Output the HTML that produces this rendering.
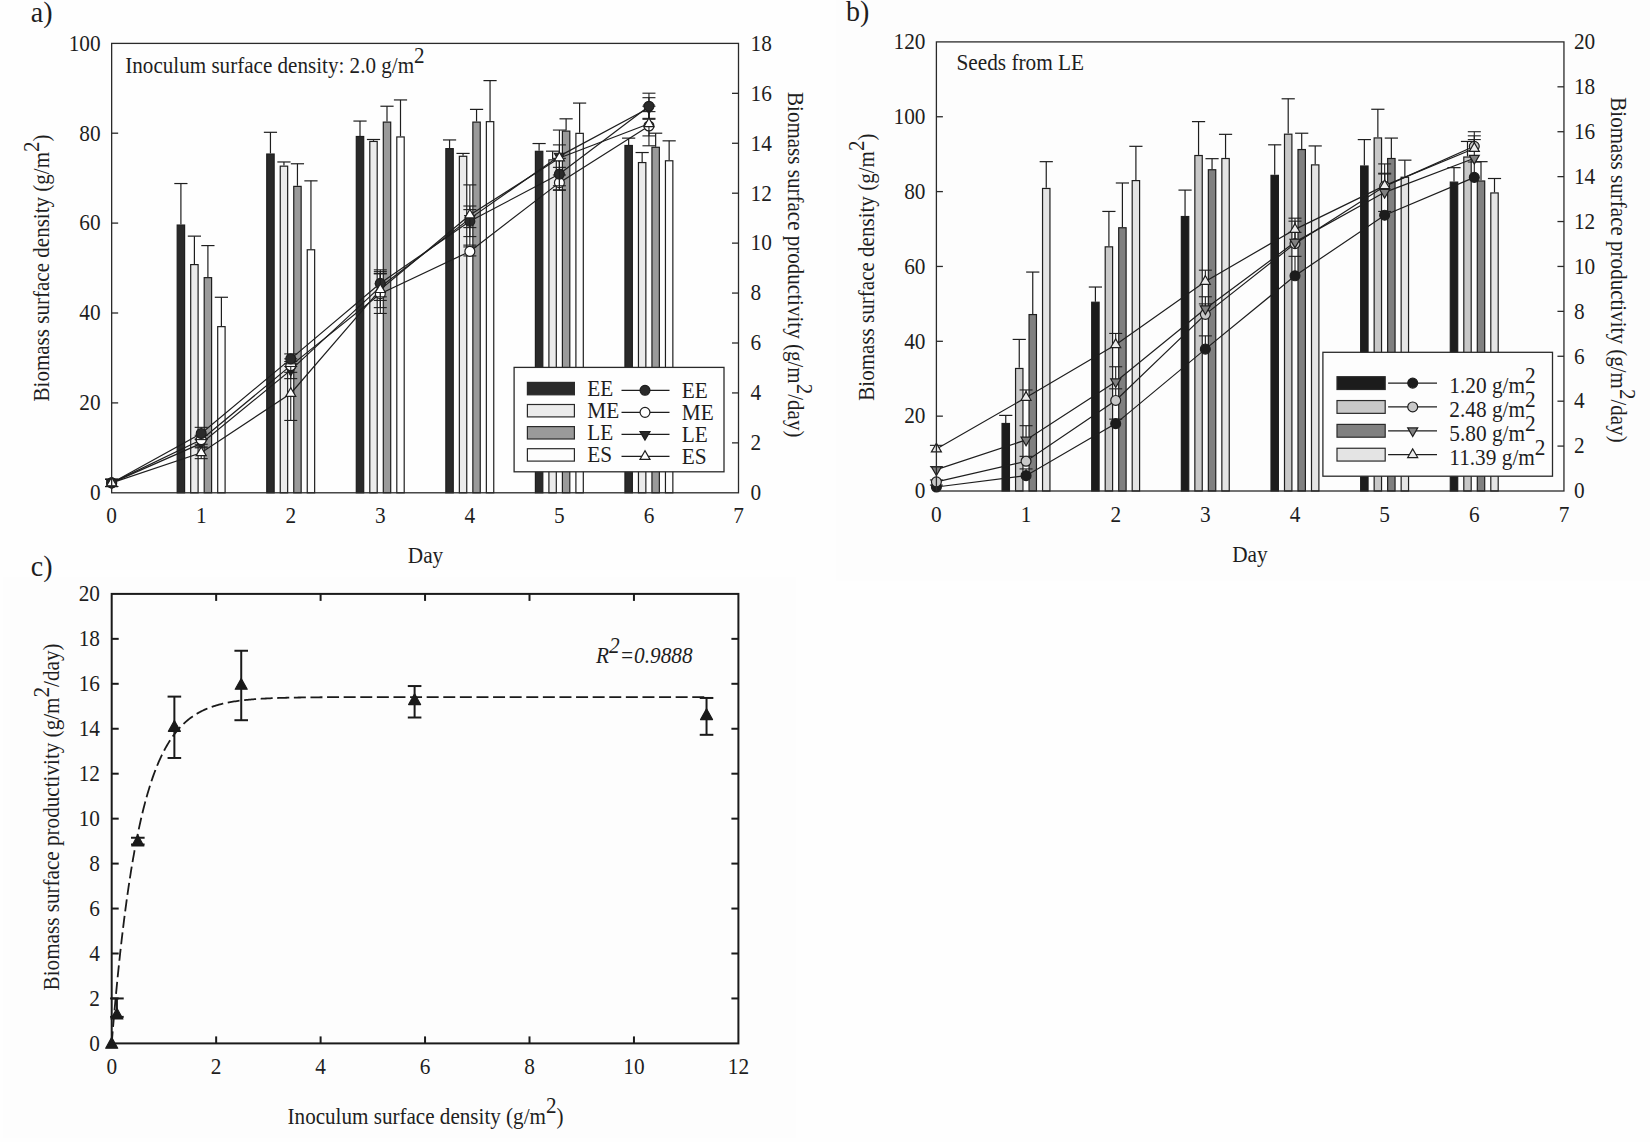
<!DOCTYPE html>
<html><head><meta charset="utf-8"><title>Figure</title>
<style>html,body{margin:0;padding:0;background:#fefefe;}svg{display:block}</style></head>
<body>
<svg width="1650" height="1142" viewBox="0 0 1650 1142" font-family="&quot;Liberation Serif&quot;, serif" fill="#1e1e1e">
<rect width="1650" height="1142" fill="#fefefe"/>
<g id="panelA">
<line x1="180.9" y1="224.45" x2="180.9" y2="183.54" stroke="#1e1e1e" stroke-width="1.2" />
<line x1="174.3" y1="183.54" x2="187.5" y2="183.54" stroke="#1e1e1e" stroke-width="1.2" />
<rect x="177.2" y="225.05" width="7.4" height="267.75" fill="#2a2a2a" stroke="#1e1e1e" stroke-width="1.2"/>
<line x1="194.4" y1="264" x2="194.4" y2="236.14" stroke="#1e1e1e" stroke-width="1.2" />
<line x1="187.8" y1="236.14" x2="201" y2="236.14" stroke="#1e1e1e" stroke-width="1.2" />
<rect x="190.7" y="264.6" width="7.4" height="228.2" fill="#ebebeb" stroke="#1e1e1e" stroke-width="1.2"/>
<line x1="207.9" y1="277.04" x2="207.9" y2="245.58" stroke="#1e1e1e" stroke-width="1.2" />
<line x1="201.3" y1="245.58" x2="214.5" y2="245.58" stroke="#1e1e1e" stroke-width="1.2" />
<rect x="204.2" y="277.64" width="7.4" height="215.16" fill="#9a9a9a" stroke="#1e1e1e" stroke-width="1.2"/>
<line x1="221.4" y1="326.04" x2="221.4" y2="297.27" stroke="#1e1e1e" stroke-width="1.2" />
<line x1="214.8" y1="297.27" x2="228" y2="297.27" stroke="#1e1e1e" stroke-width="1.2" />
<rect x="217.7" y="326.64" width="7.4" height="166.16" fill="#fdfdfd" stroke="#1e1e1e" stroke-width="1.2"/>
<line x1="270.45" y1="153.43" x2="270.45" y2="132.3" stroke="#1e1e1e" stroke-width="1.2" />
<line x1="263.85" y1="132.3" x2="277.05" y2="132.3" stroke="#1e1e1e" stroke-width="1.2" />
<rect x="266.75" y="154.03" width="7.4" height="338.77" fill="#2a2a2a" stroke="#1e1e1e" stroke-width="1.2"/>
<line x1="283.95" y1="165.56" x2="283.95" y2="161.97" stroke="#1e1e1e" stroke-width="1.2" />
<line x1="277.35" y1="161.97" x2="290.55" y2="161.97" stroke="#1e1e1e" stroke-width="1.2" />
<rect x="280.25" y="166.16" width="7.4" height="326.64" fill="#ebebeb" stroke="#1e1e1e" stroke-width="1.2"/>
<line x1="297.45" y1="185.79" x2="297.45" y2="163.77" stroke="#1e1e1e" stroke-width="1.2" />
<line x1="290.85" y1="163.77" x2="304.05" y2="163.77" stroke="#1e1e1e" stroke-width="1.2" />
<rect x="293.75" y="186.39" width="7.4" height="306.41" fill="#9a9a9a" stroke="#1e1e1e" stroke-width="1.2"/>
<line x1="310.95" y1="249.17" x2="310.95" y2="180.85" stroke="#1e1e1e" stroke-width="1.2" />
<line x1="304.35" y1="180.85" x2="317.55" y2="180.85" stroke="#1e1e1e" stroke-width="1.2" />
<rect x="307.25" y="249.77" width="7.4" height="243.03" fill="#fdfdfd" stroke="#1e1e1e" stroke-width="1.2"/>
<line x1="360" y1="135.9" x2="360" y2="121.06" stroke="#1e1e1e" stroke-width="1.2" />
<line x1="353.4" y1="121.06" x2="366.6" y2="121.06" stroke="#1e1e1e" stroke-width="1.2" />
<rect x="356.3" y="136.5" width="7.4" height="356.3" fill="#2a2a2a" stroke="#1e1e1e" stroke-width="1.2"/>
<line x1="373.5" y1="140.84" x2="373.5" y2="139.49" stroke="#1e1e1e" stroke-width="1.2" />
<line x1="366.9" y1="139.49" x2="380.1" y2="139.49" stroke="#1e1e1e" stroke-width="1.2" />
<rect x="369.8" y="141.44" width="7.4" height="351.36" fill="#ebebeb" stroke="#1e1e1e" stroke-width="1.2"/>
<line x1="387" y1="121.51" x2="387" y2="106.23" stroke="#1e1e1e" stroke-width="1.2" />
<line x1="380.4" y1="106.23" x2="393.6" y2="106.23" stroke="#1e1e1e" stroke-width="1.2" />
<rect x="383.3" y="122.11" width="7.4" height="370.69" fill="#9a9a9a" stroke="#1e1e1e" stroke-width="1.2"/>
<line x1="400.5" y1="136.35" x2="400.5" y2="99.94" stroke="#1e1e1e" stroke-width="1.2" />
<line x1="393.9" y1="99.94" x2="407.1" y2="99.94" stroke="#1e1e1e" stroke-width="1.2" />
<rect x="396.8" y="136.95" width="7.4" height="355.85" fill="#fdfdfd" stroke="#1e1e1e" stroke-width="1.2"/>
<line x1="449.55" y1="148.03" x2="449.55" y2="139.94" stroke="#1e1e1e" stroke-width="1.2" />
<line x1="442.95" y1="139.94" x2="456.15" y2="139.94" stroke="#1e1e1e" stroke-width="1.2" />
<rect x="445.85" y="148.63" width="7.4" height="344.17" fill="#2a2a2a" stroke="#1e1e1e" stroke-width="1.2"/>
<line x1="463.05" y1="155.68" x2="463.05" y2="153.43" stroke="#1e1e1e" stroke-width="1.2" />
<line x1="456.45" y1="153.43" x2="469.65" y2="153.43" stroke="#1e1e1e" stroke-width="1.2" />
<rect x="459.35" y="156.28" width="7.4" height="336.52" fill="#ebebeb" stroke="#1e1e1e" stroke-width="1.2"/>
<line x1="476.55" y1="121.51" x2="476.55" y2="109.38" stroke="#1e1e1e" stroke-width="1.2" />
<line x1="469.95" y1="109.38" x2="483.15" y2="109.38" stroke="#1e1e1e" stroke-width="1.2" />
<rect x="472.85" y="122.11" width="7.4" height="370.69" fill="#9a9a9a" stroke="#1e1e1e" stroke-width="1.2"/>
<line x1="490.05" y1="121.06" x2="490.05" y2="80.61" stroke="#1e1e1e" stroke-width="1.2" />
<line x1="483.45" y1="80.61" x2="496.65" y2="80.61" stroke="#1e1e1e" stroke-width="1.2" />
<rect x="486.35" y="121.66" width="7.4" height="371.14" fill="#fdfdfd" stroke="#1e1e1e" stroke-width="1.2"/>
<line x1="539.1" y1="150.73" x2="539.1" y2="143.54" stroke="#1e1e1e" stroke-width="1.2" />
<line x1="532.5" y1="143.54" x2="545.7" y2="143.54" stroke="#1e1e1e" stroke-width="1.2" />
<rect x="535.4" y="151.33" width="7.4" height="341.47" fill="#2a2a2a" stroke="#1e1e1e" stroke-width="1.2"/>
<line x1="552.6" y1="159.27" x2="552.6" y2="151.18" stroke="#1e1e1e" stroke-width="1.2" />
<line x1="546" y1="151.18" x2="559.2" y2="151.18" stroke="#1e1e1e" stroke-width="1.2" />
<rect x="548.9" y="159.87" width="7.4" height="332.93" fill="#ebebeb" stroke="#1e1e1e" stroke-width="1.2"/>
<line x1="566.1" y1="130.5" x2="566.1" y2="118.82" stroke="#1e1e1e" stroke-width="1.2" />
<line x1="559.5" y1="118.82" x2="572.7" y2="118.82" stroke="#1e1e1e" stroke-width="1.2" />
<rect x="562.4" y="131.1" width="7.4" height="361.7" fill="#9a9a9a" stroke="#1e1e1e" stroke-width="1.2"/>
<line x1="579.6" y1="132.75" x2="579.6" y2="103.08" stroke="#1e1e1e" stroke-width="1.2" />
<line x1="573" y1="103.08" x2="586.2" y2="103.08" stroke="#1e1e1e" stroke-width="1.2" />
<rect x="575.9" y="133.35" width="7.4" height="359.45" fill="#fdfdfd" stroke="#1e1e1e" stroke-width="1.2"/>
<line x1="628.65" y1="144.89" x2="628.65" y2="138.14" stroke="#1e1e1e" stroke-width="1.2" />
<line x1="622.05" y1="138.14" x2="635.25" y2="138.14" stroke="#1e1e1e" stroke-width="1.2" />
<rect x="624.95" y="145.49" width="7.4" height="347.31" fill="#2a2a2a" stroke="#1e1e1e" stroke-width="1.2"/>
<line x1="642.15" y1="161.97" x2="642.15" y2="152.53" stroke="#1e1e1e" stroke-width="1.2" />
<line x1="635.55" y1="152.53" x2="648.75" y2="152.53" stroke="#1e1e1e" stroke-width="1.2" />
<rect x="638.45" y="162.57" width="7.4" height="330.23" fill="#ebebeb" stroke="#1e1e1e" stroke-width="1.2"/>
<line x1="655.65" y1="146.69" x2="655.65" y2="133.2" stroke="#1e1e1e" stroke-width="1.2" />
<line x1="649.05" y1="133.2" x2="662.25" y2="133.2" stroke="#1e1e1e" stroke-width="1.2" />
<rect x="651.95" y="147.28" width="7.4" height="345.51" fill="#9a9a9a" stroke="#1e1e1e" stroke-width="1.2"/>
<line x1="669.15" y1="160.17" x2="669.15" y2="140.84" stroke="#1e1e1e" stroke-width="1.2" />
<line x1="662.55" y1="140.84" x2="675.75" y2="140.84" stroke="#1e1e1e" stroke-width="1.2" />
<rect x="665.45" y="160.77" width="7.4" height="332.03" fill="#fdfdfd" stroke="#1e1e1e" stroke-width="1.2"/>
<polyline points="111.65,482.91 201.2,433.47 290.75,358.85 380.3,283.33 469.85,221.3 559.4,174.1 648.95,106.23" fill="none" stroke="#1e1e1e" stroke-width="1.2"/>
<polyline points="111.65,482.91 201.2,439.76 290.75,365.59 380.3,293.67 469.85,251.42 559.4,182.64 648.95,126.01" fill="none" stroke="#1e1e1e" stroke-width="1.2"/>
<polyline points="111.65,482.91 201.2,443.36 290.75,370.09 380.3,286.93 469.85,218.61 559.4,156.12 648.95,108.03" fill="none" stroke="#1e1e1e" stroke-width="1.2"/>
<polyline points="111.65,482.91 201.2,452.79 290.75,393.46 380.3,289.63 469.85,215.01 559.4,157.92 648.95,123.76" fill="none" stroke="#1e1e1e" stroke-width="1.2"/>
<line x1="111.65" y1="486.51" x2="111.65" y2="479.31" stroke="#1e1e1e" stroke-width="1.1" />
<line x1="105.15" y1="479.31" x2="118.15" y2="479.31" stroke="#1e1e1e" stroke-width="1.1" />
<line x1="105.15" y1="486.51" x2="118.15" y2="486.51" stroke="#1e1e1e" stroke-width="1.1" />
<line x1="201.2" y1="447.85" x2="201.2" y2="438.86" stroke="#1e1e1e" stroke-width="1.1" />
<line x1="194.7" y1="438.86" x2="207.7" y2="438.86" stroke="#1e1e1e" stroke-width="1.1" />
<line x1="194.7" y1="447.85" x2="207.7" y2="447.85" stroke="#1e1e1e" stroke-width="1.1" />
<line x1="290.75" y1="378.63" x2="290.75" y2="361.55" stroke="#1e1e1e" stroke-width="1.1" />
<line x1="284.25" y1="361.55" x2="297.25" y2="361.55" stroke="#1e1e1e" stroke-width="1.1" />
<line x1="284.25" y1="378.63" x2="297.25" y2="378.63" stroke="#1e1e1e" stroke-width="1.1" />
<line x1="380.3" y1="300.41" x2="380.3" y2="273.44" stroke="#1e1e1e" stroke-width="1.1" />
<line x1="373.8" y1="273.44" x2="386.8" y2="273.44" stroke="#1e1e1e" stroke-width="1.1" />
<line x1="373.8" y1="300.41" x2="386.8" y2="300.41" stroke="#1e1e1e" stroke-width="1.1" />
<line x1="469.85" y1="227.6" x2="469.85" y2="209.62" stroke="#1e1e1e" stroke-width="1.1" />
<line x1="463.35" y1="209.62" x2="476.35" y2="209.62" stroke="#1e1e1e" stroke-width="1.1" />
<line x1="463.35" y1="227.6" x2="476.35" y2="227.6" stroke="#1e1e1e" stroke-width="1.1" />
<line x1="559.4" y1="167.36" x2="559.4" y2="144.89" stroke="#1e1e1e" stroke-width="1.1" />
<line x1="552.9" y1="144.89" x2="565.9" y2="144.89" stroke="#1e1e1e" stroke-width="1.1" />
<line x1="552.9" y1="167.36" x2="565.9" y2="167.36" stroke="#1e1e1e" stroke-width="1.1" />
<line x1="648.95" y1="118.37" x2="648.95" y2="97.69" stroke="#1e1e1e" stroke-width="1.1" />
<line x1="642.45" y1="97.69" x2="655.45" y2="97.69" stroke="#1e1e1e" stroke-width="1.1" />
<line x1="642.45" y1="118.37" x2="655.45" y2="118.37" stroke="#1e1e1e" stroke-width="1.1" />
<polygon points="111.65,488.68 106.65,480.02 116.65,480.02" fill="#2a2a2a" stroke="#1e1e1e" stroke-width="1.2" stroke-linejoin="miter"/>
<polygon points="201.2,449.13 196.2,440.47 206.2,440.47" fill="#2a2a2a" stroke="#1e1e1e" stroke-width="1.2" stroke-linejoin="miter"/>
<polygon points="290.75,375.86 285.75,367.2 295.75,367.2" fill="#2a2a2a" stroke="#1e1e1e" stroke-width="1.2" stroke-linejoin="miter"/>
<polygon points="380.3,292.7 375.3,284.04 385.3,284.04" fill="#2a2a2a" stroke="#1e1e1e" stroke-width="1.2" stroke-linejoin="miter"/>
<polygon points="469.85,224.38 464.85,215.72 474.85,215.72" fill="#2a2a2a" stroke="#1e1e1e" stroke-width="1.2" stroke-linejoin="miter"/>
<polygon points="559.4,161.9 554.4,153.24 564.4,153.24" fill="#2a2a2a" stroke="#1e1e1e" stroke-width="1.2" stroke-linejoin="miter"/>
<polygon points="648.95,113.8 643.95,105.14 653.95,105.14" fill="#2a2a2a" stroke="#1e1e1e" stroke-width="1.2" stroke-linejoin="miter"/>
<line x1="111.65" y1="486.51" x2="111.65" y2="479.31" stroke="#1e1e1e" stroke-width="1.1" />
<line x1="105.15" y1="479.31" x2="118.15" y2="479.31" stroke="#1e1e1e" stroke-width="1.1" />
<line x1="105.15" y1="486.51" x2="118.15" y2="486.51" stroke="#1e1e1e" stroke-width="1.1" />
<line x1="201.2" y1="444.25" x2="201.2" y2="435.26" stroke="#1e1e1e" stroke-width="1.1" />
<line x1="194.7" y1="435.26" x2="207.7" y2="435.26" stroke="#1e1e1e" stroke-width="1.1" />
<line x1="194.7" y1="444.25" x2="207.7" y2="444.25" stroke="#1e1e1e" stroke-width="1.1" />
<line x1="290.75" y1="372.33" x2="290.75" y2="358.85" stroke="#1e1e1e" stroke-width="1.1" />
<line x1="284.25" y1="358.85" x2="297.25" y2="358.85" stroke="#1e1e1e" stroke-width="1.1" />
<line x1="284.25" y1="372.33" x2="297.25" y2="372.33" stroke="#1e1e1e" stroke-width="1.1" />
<line x1="380.3" y1="313.45" x2="380.3" y2="273.89" stroke="#1e1e1e" stroke-width="1.1" />
<line x1="373.8" y1="273.89" x2="386.8" y2="273.89" stroke="#1e1e1e" stroke-width="1.1" />
<line x1="373.8" y1="313.45" x2="386.8" y2="313.45" stroke="#1e1e1e" stroke-width="1.1" />
<line x1="469.85" y1="255.91" x2="469.85" y2="246.92" stroke="#1e1e1e" stroke-width="1.1" />
<line x1="463.35" y1="246.92" x2="476.35" y2="246.92" stroke="#1e1e1e" stroke-width="1.1" />
<line x1="463.35" y1="255.91" x2="476.35" y2="255.91" stroke="#1e1e1e" stroke-width="1.1" />
<line x1="559.4" y1="190.29" x2="559.4" y2="175" stroke="#1e1e1e" stroke-width="1.1" />
<line x1="552.9" y1="175" x2="565.9" y2="175" stroke="#1e1e1e" stroke-width="1.1" />
<line x1="552.9" y1="190.29" x2="565.9" y2="190.29" stroke="#1e1e1e" stroke-width="1.1" />
<line x1="648.95" y1="145.79" x2="648.95" y2="106.23" stroke="#1e1e1e" stroke-width="1.1" />
<line x1="642.45" y1="106.23" x2="655.45" y2="106.23" stroke="#1e1e1e" stroke-width="1.1" />
<line x1="642.45" y1="145.79" x2="655.45" y2="145.79" stroke="#1e1e1e" stroke-width="1.1" />
<circle cx="111.65" cy="482.91" r="4.95" fill="#ffffff" stroke="#1e1e1e" stroke-width="1.2"/>
<circle cx="201.2" cy="439.76" r="4.95" fill="#ffffff" stroke="#1e1e1e" stroke-width="1.2"/>
<circle cx="290.75" cy="365.59" r="4.95" fill="#ffffff" stroke="#1e1e1e" stroke-width="1.2"/>
<circle cx="380.3" cy="293.67" r="4.95" fill="#ffffff" stroke="#1e1e1e" stroke-width="1.2"/>
<circle cx="469.85" cy="251.42" r="4.95" fill="#ffffff" stroke="#1e1e1e" stroke-width="1.2"/>
<circle cx="559.4" cy="182.64" r="4.95" fill="#ffffff" stroke="#1e1e1e" stroke-width="1.2"/>
<circle cx="648.95" cy="126.01" r="4.95" fill="#ffffff" stroke="#1e1e1e" stroke-width="1.2"/>
<line x1="111.65" y1="486.51" x2="111.65" y2="479.31" stroke="#1e1e1e" stroke-width="1.1" />
<line x1="105.15" y1="479.31" x2="118.15" y2="479.31" stroke="#1e1e1e" stroke-width="1.1" />
<line x1="105.15" y1="486.51" x2="118.15" y2="486.51" stroke="#1e1e1e" stroke-width="1.1" />
<line x1="201.2" y1="439.58" x2="201.2" y2="427.35" stroke="#1e1e1e" stroke-width="1.1" />
<line x1="194.7" y1="427.35" x2="207.7" y2="427.35" stroke="#1e1e1e" stroke-width="1.1" />
<line x1="194.7" y1="439.58" x2="207.7" y2="439.58" stroke="#1e1e1e" stroke-width="1.1" />
<line x1="290.75" y1="363.79" x2="290.75" y2="353.9" stroke="#1e1e1e" stroke-width="1.1" />
<line x1="284.25" y1="353.9" x2="297.25" y2="353.9" stroke="#1e1e1e" stroke-width="1.1" />
<line x1="284.25" y1="363.79" x2="297.25" y2="363.79" stroke="#1e1e1e" stroke-width="1.1" />
<line x1="380.3" y1="296.82" x2="380.3" y2="269.85" stroke="#1e1e1e" stroke-width="1.1" />
<line x1="373.8" y1="269.85" x2="386.8" y2="269.85" stroke="#1e1e1e" stroke-width="1.1" />
<line x1="373.8" y1="296.82" x2="386.8" y2="296.82" stroke="#1e1e1e" stroke-width="1.1" />
<line x1="469.85" y1="236.58" x2="469.85" y2="206.02" stroke="#1e1e1e" stroke-width="1.1" />
<line x1="463.35" y1="206.02" x2="476.35" y2="206.02" stroke="#1e1e1e" stroke-width="1.1" />
<line x1="463.35" y1="236.58" x2="476.35" y2="236.58" stroke="#1e1e1e" stroke-width="1.1" />
<line x1="559.4" y1="189.84" x2="559.4" y2="158.37" stroke="#1e1e1e" stroke-width="1.1" />
<line x1="552.9" y1="158.37" x2="565.9" y2="158.37" stroke="#1e1e1e" stroke-width="1.1" />
<line x1="552.9" y1="189.84" x2="565.9" y2="189.84" stroke="#1e1e1e" stroke-width="1.1" />
<line x1="648.95" y1="119.27" x2="648.95" y2="93.19" stroke="#1e1e1e" stroke-width="1.1" />
<line x1="642.45" y1="93.19" x2="655.45" y2="93.19" stroke="#1e1e1e" stroke-width="1.1" />
<line x1="642.45" y1="119.27" x2="655.45" y2="119.27" stroke="#1e1e1e" stroke-width="1.1" />
<circle cx="111.65" cy="482.91" r="4.95" fill="#2a2a2a" stroke="#1e1e1e" stroke-width="1.2"/>
<circle cx="201.2" cy="433.47" r="4.95" fill="#2a2a2a" stroke="#1e1e1e" stroke-width="1.2"/>
<circle cx="290.75" cy="358.85" r="4.95" fill="#2a2a2a" stroke="#1e1e1e" stroke-width="1.2"/>
<circle cx="380.3" cy="283.33" r="4.95" fill="#2a2a2a" stroke="#1e1e1e" stroke-width="1.2"/>
<circle cx="469.85" cy="221.3" r="4.95" fill="#2a2a2a" stroke="#1e1e1e" stroke-width="1.2"/>
<circle cx="559.4" cy="174.1" r="4.95" fill="#2a2a2a" stroke="#1e1e1e" stroke-width="1.2"/>
<circle cx="648.95" cy="106.23" r="4.95" fill="#2a2a2a" stroke="#1e1e1e" stroke-width="1.2"/>
<line x1="111.65" y1="486.51" x2="111.65" y2="479.31" stroke="#1e1e1e" stroke-width="1.1" />
<line x1="105.15" y1="479.31" x2="118.15" y2="479.31" stroke="#1e1e1e" stroke-width="1.1" />
<line x1="105.15" y1="486.51" x2="118.15" y2="486.51" stroke="#1e1e1e" stroke-width="1.1" />
<line x1="201.2" y1="458.64" x2="201.2" y2="446.95" stroke="#1e1e1e" stroke-width="1.1" />
<line x1="194.7" y1="446.95" x2="207.7" y2="446.95" stroke="#1e1e1e" stroke-width="1.1" />
<line x1="194.7" y1="458.64" x2="207.7" y2="458.64" stroke="#1e1e1e" stroke-width="1.1" />
<line x1="290.75" y1="420.43" x2="290.75" y2="366.49" stroke="#1e1e1e" stroke-width="1.1" />
<line x1="284.25" y1="366.49" x2="297.25" y2="366.49" stroke="#1e1e1e" stroke-width="1.1" />
<line x1="284.25" y1="420.43" x2="297.25" y2="420.43" stroke="#1e1e1e" stroke-width="1.1" />
<line x1="380.3" y1="307.61" x2="380.3" y2="271.65" stroke="#1e1e1e" stroke-width="1.1" />
<line x1="373.8" y1="271.65" x2="386.8" y2="271.65" stroke="#1e1e1e" stroke-width="1.1" />
<line x1="373.8" y1="307.61" x2="386.8" y2="307.61" stroke="#1e1e1e" stroke-width="1.1" />
<line x1="469.85" y1="245.13" x2="469.85" y2="184.89" stroke="#1e1e1e" stroke-width="1.1" />
<line x1="463.35" y1="184.89" x2="476.35" y2="184.89" stroke="#1e1e1e" stroke-width="1.1" />
<line x1="463.35" y1="245.13" x2="476.35" y2="245.13" stroke="#1e1e1e" stroke-width="1.1" />
<line x1="559.4" y1="185.79" x2="559.4" y2="130.05" stroke="#1e1e1e" stroke-width="1.1" />
<line x1="552.9" y1="130.05" x2="565.9" y2="130.05" stroke="#1e1e1e" stroke-width="1.1" />
<line x1="552.9" y1="185.79" x2="565.9" y2="185.79" stroke="#1e1e1e" stroke-width="1.1" />
<line x1="648.95" y1="135.9" x2="648.95" y2="111.62" stroke="#1e1e1e" stroke-width="1.1" />
<line x1="642.45" y1="111.62" x2="655.45" y2="111.62" stroke="#1e1e1e" stroke-width="1.1" />
<line x1="642.45" y1="135.9" x2="655.45" y2="135.9" stroke="#1e1e1e" stroke-width="1.1" />
<polygon points="111.65,477.14 106.65,485.8 116.65,485.8" fill="#ffffff" stroke="#1e1e1e" stroke-width="1.2" stroke-linejoin="miter"/>
<polygon points="201.2,447.02 196.2,455.68 206.2,455.68" fill="#ffffff" stroke="#1e1e1e" stroke-width="1.2" stroke-linejoin="miter"/>
<polygon points="290.75,387.69 285.75,396.35 295.75,396.35" fill="#ffffff" stroke="#1e1e1e" stroke-width="1.2" stroke-linejoin="miter"/>
<polygon points="380.3,283.85 375.3,292.51 385.3,292.51" fill="#ffffff" stroke="#1e1e1e" stroke-width="1.2" stroke-linejoin="miter"/>
<polygon points="469.85,209.24 464.85,217.9 474.85,217.9" fill="#ffffff" stroke="#1e1e1e" stroke-width="1.2" stroke-linejoin="miter"/>
<polygon points="559.4,152.15 554.4,160.81 564.4,160.81" fill="#ffffff" stroke="#1e1e1e" stroke-width="1.2" stroke-linejoin="miter"/>
<polygon points="648.95,117.99 643.95,126.65 653.95,126.65" fill="#ffffff" stroke="#1e1e1e" stroke-width="1.2" stroke-linejoin="miter"/>
<rect x="111.65" y="43.4" width="626.85" height="449.4" fill="none" stroke="#2a2a2a" stroke-width="1.3"/>
<line x1="111.65" y1="402.9" x2="118.15" y2="402.9" stroke="#2a2a2a" stroke-width="1.3" />
<line x1="111.65" y1="313" x2="118.15" y2="313" stroke="#2a2a2a" stroke-width="1.3" />
<line x1="111.65" y1="223.1" x2="118.15" y2="223.1" stroke="#2a2a2a" stroke-width="1.3" />
<line x1="111.65" y1="133.2" x2="118.15" y2="133.2" stroke="#2a2a2a" stroke-width="1.3" />
<line x1="732" y1="442.87" x2="738.5" y2="442.87" stroke="#2a2a2a" stroke-width="1.3" />
<line x1="732" y1="392.93" x2="738.5" y2="392.93" stroke="#2a2a2a" stroke-width="1.3" />
<line x1="732" y1="343" x2="738.5" y2="343" stroke="#2a2a2a" stroke-width="1.3" />
<line x1="732" y1="293.07" x2="738.5" y2="293.07" stroke="#2a2a2a" stroke-width="1.3" />
<line x1="732" y1="243.13" x2="738.5" y2="243.13" stroke="#2a2a2a" stroke-width="1.3" />
<line x1="732" y1="193.2" x2="738.5" y2="193.2" stroke="#2a2a2a" stroke-width="1.3" />
<line x1="732" y1="143.27" x2="738.5" y2="143.27" stroke="#2a2a2a" stroke-width="1.3" />
<line x1="732" y1="93.33" x2="738.5" y2="93.33" stroke="#2a2a2a" stroke-width="1.3" />
<text transform="translate(100.6,500.1) scale(1,1.05)" font-size="21.3" text-anchor="end" >0</text>
<text transform="translate(100.6,410.2) scale(1,1.05)" font-size="21.3" text-anchor="end" >20</text>
<text transform="translate(100.6,320.3) scale(1,1.05)" font-size="21.3" text-anchor="end" >40</text>
<text transform="translate(100.6,230.4) scale(1,1.05)" font-size="21.3" text-anchor="end" >60</text>
<text transform="translate(100.6,140.5) scale(1,1.05)" font-size="21.3" text-anchor="end" >80</text>
<text transform="translate(100.6,50.6) scale(1,1.05)" font-size="21.3" text-anchor="end" >100</text>
<text transform="translate(750.6,500.1) scale(1,1.05)" font-size="21.3" text-anchor="start" >0</text>
<text transform="translate(750.6,450.17) scale(1,1.05)" font-size="21.3" text-anchor="start" >2</text>
<text transform="translate(750.6,400.23) scale(1,1.05)" font-size="21.3" text-anchor="start" >4</text>
<text transform="translate(750.6,350.3) scale(1,1.05)" font-size="21.3" text-anchor="start" >6</text>
<text transform="translate(750.6,300.37) scale(1,1.05)" font-size="21.3" text-anchor="start" >8</text>
<text transform="translate(750.6,250.43) scale(1,1.05)" font-size="21.3" text-anchor="start" >10</text>
<text transform="translate(750.6,200.5) scale(1,1.05)" font-size="21.3" text-anchor="start" >12</text>
<text transform="translate(750.6,150.57) scale(1,1.05)" font-size="21.3" text-anchor="start" >14</text>
<text transform="translate(750.6,100.63) scale(1,1.05)" font-size="21.3" text-anchor="start" >16</text>
<text transform="translate(750.6,50.7) scale(1,1.05)" font-size="21.3" text-anchor="start" >18</text>
<text transform="translate(111.65,522.8) scale(1,1.05)" font-size="21.3" text-anchor="middle" >0</text>
<text transform="translate(201.2,522.8) scale(1,1.05)" font-size="21.3" text-anchor="middle" >1</text>
<text transform="translate(290.75,522.8) scale(1,1.05)" font-size="21.3" text-anchor="middle" >2</text>
<text transform="translate(380.3,522.8) scale(1,1.05)" font-size="21.3" text-anchor="middle" >3</text>
<text transform="translate(469.85,522.8) scale(1,1.05)" font-size="21.3" text-anchor="middle" >4</text>
<text transform="translate(559.4,522.8) scale(1,1.05)" font-size="21.3" text-anchor="middle" >5</text>
<text transform="translate(648.95,522.8) scale(1,1.05)" font-size="21.3" text-anchor="middle" >6</text>
<text transform="translate(738.5,522.8) scale(1,1.05)" font-size="21.3" text-anchor="middle" >7</text>
<text transform="translate(425.5,562.6) scale(1,1.05)" font-size="21.3" text-anchor="middle" >Day</text>
<text transform="translate(125.3,73.1) scale(1,1.05)" font-size="21.1" text-anchor="start" >Inoculum surface density: 2.0 g/m<tspan dy="-9.2">2</tspan></text>
<text transform="translate(48.6,401.5) rotate(-90) scale(1,1.05)" font-size="21.05">Biomass surface density (g/m<tspan dy="-9.2">2</tspan><tspan dy="9.2">)</tspan></text>
<text transform="translate(787.5,92.0) rotate(90) scale(1,1.05)" font-size="21.05">Biomass surface productivity (g/m<tspan dy="-9.2">2</tspan><tspan dy="9.2">/day)</tspan></text>
<rect x="514.1" y="367.4" width="209.9" height="104.4" fill="#fefefe" stroke="#2a2a2a" stroke-width="1.3"/>
<rect x="527.4" y="382.4" width="47" height="12.4" fill="#2a2a2a" stroke="#2a2a2a" stroke-width="1.2"/>
<text transform="translate(587.3,395.8) scale(1,1.05)" font-size="21.3" text-anchor="start" >EE</text>
<line x1="621.5" y1="390.3" x2="669.5" y2="390.3" stroke="#1e1e1e" stroke-width="1.2" />
<circle cx="645" cy="390.3" r="4.95" fill="#2a2a2a" stroke="#1e1e1e" stroke-width="1.2"/>
<text transform="translate(681.8,397.9) scale(1,1.05)" font-size="21.3" text-anchor="start" >EE</text>
<rect x="527.4" y="404.5" width="47" height="12.4" fill="#ebebeb" stroke="#2a2a2a" stroke-width="1.2"/>
<text transform="translate(587.3,417.9) scale(1,1.05)" font-size="21.3" text-anchor="start" >ME</text>
<line x1="621.5" y1="412.35" x2="669.5" y2="412.35" stroke="#1e1e1e" stroke-width="1.2" />
<circle cx="645" cy="412.35" r="4.95" fill="#ffffff" stroke="#1e1e1e" stroke-width="1.2"/>
<text transform="translate(681.8,419.95) scale(1,1.05)" font-size="21.3" text-anchor="start" >ME</text>
<rect x="527.4" y="426.6" width="47" height="12.4" fill="#9a9a9a" stroke="#2a2a2a" stroke-width="1.2"/>
<text transform="translate(587.3,440) scale(1,1.05)" font-size="21.3" text-anchor="start" >LE</text>
<line x1="621.5" y1="434.4" x2="669.5" y2="434.4" stroke="#1e1e1e" stroke-width="1.2" />
<polygon points="645,440.17 640,431.51 650,431.51" fill="#2a2a2a" stroke="#1e1e1e" stroke-width="1.2" stroke-linejoin="miter"/>
<text transform="translate(681.8,442) scale(1,1.05)" font-size="21.3" text-anchor="start" >LE</text>
<rect x="527.4" y="448.7" width="47" height="12.4" fill="#fdfdfd" stroke="#2a2a2a" stroke-width="1.2"/>
<text transform="translate(587.3,462.1) scale(1,1.05)" font-size="21.3" text-anchor="start" >ES</text>
<line x1="621.5" y1="456.45" x2="669.5" y2="456.45" stroke="#1e1e1e" stroke-width="1.2" />
<polygon points="645,450.68 640,459.34 650,459.34" fill="#ffffff" stroke="#1e1e1e" stroke-width="1.2" stroke-linejoin="miter"/>
<text transform="translate(681.8,464.05) scale(1,1.05)" font-size="21.3" text-anchor="start" >ES</text>
</g>
<rect x="836" y="0" width="814" height="581" fill="#fdfdfd"/>
<g id="panelB">
<line x1="1005.75" y1="422.89" x2="1005.75" y2="415.4" stroke="#1e1e1e" stroke-width="1.2" />
<line x1="999.15" y1="415.4" x2="1012.35" y2="415.4" stroke="#1e1e1e" stroke-width="1.2" />
<rect x="1002.05" y="423.49" width="7.4" height="67.51" fill="#1c1c1c" stroke="#1e1e1e" stroke-width="1.2"/>
<line x1="1019.25" y1="367.87" x2="1019.25" y2="339.43" stroke="#1e1e1e" stroke-width="1.2" />
<line x1="1012.65" y1="339.43" x2="1025.85" y2="339.43" stroke="#1e1e1e" stroke-width="1.2" />
<rect x="1015.55" y="368.47" width="7.4" height="122.53" fill="#c8c8c8" stroke="#1e1e1e" stroke-width="1.2"/>
<line x1="1032.75" y1="313.98" x2="1032.75" y2="272.06" stroke="#1e1e1e" stroke-width="1.2" />
<line x1="1026.15" y1="272.06" x2="1039.35" y2="272.06" stroke="#1e1e1e" stroke-width="1.2" />
<rect x="1029.05" y="314.58" width="7.4" height="176.42" fill="#808080" stroke="#1e1e1e" stroke-width="1.2"/>
<line x1="1046.25" y1="187.86" x2="1046.25" y2="161.66" stroke="#1e1e1e" stroke-width="1.2" />
<line x1="1039.65" y1="161.66" x2="1052.85" y2="161.66" stroke="#1e1e1e" stroke-width="1.2" />
<rect x="1042.55" y="188.46" width="7.4" height="302.54" fill="#e4e4e4" stroke="#1e1e1e" stroke-width="1.2"/>
<line x1="1095.4" y1="301.63" x2="1095.4" y2="287.03" stroke="#1e1e1e" stroke-width="1.2" />
<line x1="1088.8" y1="287.03" x2="1102" y2="287.03" stroke="#1e1e1e" stroke-width="1.2" />
<rect x="1091.7" y="302.23" width="7.4" height="188.77" fill="#1c1c1c" stroke="#1e1e1e" stroke-width="1.2"/>
<line x1="1108.9" y1="246.24" x2="1108.9" y2="211.44" stroke="#1e1e1e" stroke-width="1.2" />
<line x1="1102.3" y1="211.44" x2="1115.5" y2="211.44" stroke="#1e1e1e" stroke-width="1.2" />
<rect x="1105.2" y="246.84" width="7.4" height="244.16" fill="#c8c8c8" stroke="#1e1e1e" stroke-width="1.2"/>
<line x1="1122.4" y1="227.15" x2="1122.4" y2="182.99" stroke="#1e1e1e" stroke-width="1.2" />
<line x1="1115.8" y1="182.99" x2="1129" y2="182.99" stroke="#1e1e1e" stroke-width="1.2" />
<rect x="1118.7" y="227.75" width="7.4" height="263.25" fill="#808080" stroke="#1e1e1e" stroke-width="1.2"/>
<line x1="1135.9" y1="180" x2="1135.9" y2="146.32" stroke="#1e1e1e" stroke-width="1.2" />
<line x1="1129.3" y1="146.32" x2="1142.5" y2="146.32" stroke="#1e1e1e" stroke-width="1.2" />
<rect x="1132.2" y="180.6" width="7.4" height="310.4" fill="#e4e4e4" stroke="#1e1e1e" stroke-width="1.2"/>
<line x1="1185.05" y1="215.93" x2="1185.05" y2="190.1" stroke="#1e1e1e" stroke-width="1.2" />
<line x1="1178.45" y1="190.1" x2="1191.65" y2="190.1" stroke="#1e1e1e" stroke-width="1.2" />
<rect x="1181.35" y="216.53" width="7.4" height="274.47" fill="#1c1c1c" stroke="#1e1e1e" stroke-width="1.2"/>
<line x1="1198.55" y1="154.92" x2="1198.55" y2="121.62" stroke="#1e1e1e" stroke-width="1.2" />
<line x1="1191.95" y1="121.62" x2="1205.15" y2="121.62" stroke="#1e1e1e" stroke-width="1.2" />
<rect x="1194.85" y="155.52" width="7.4" height="335.48" fill="#c8c8c8" stroke="#1e1e1e" stroke-width="1.2"/>
<line x1="1212.05" y1="169.14" x2="1212.05" y2="158.67" stroke="#1e1e1e" stroke-width="1.2" />
<line x1="1205.45" y1="158.67" x2="1218.65" y2="158.67" stroke="#1e1e1e" stroke-width="1.2" />
<rect x="1208.35" y="169.74" width="7.4" height="321.25" fill="#808080" stroke="#1e1e1e" stroke-width="1.2"/>
<line x1="1225.55" y1="157.92" x2="1225.55" y2="134.34" stroke="#1e1e1e" stroke-width="1.2" />
<line x1="1218.95" y1="134.34" x2="1232.15" y2="134.34" stroke="#1e1e1e" stroke-width="1.2" />
<rect x="1221.85" y="158.52" width="7.4" height="332.48" fill="#e4e4e4" stroke="#1e1e1e" stroke-width="1.2"/>
<line x1="1274.7" y1="174.76" x2="1274.7" y2="144.82" stroke="#1e1e1e" stroke-width="1.2" />
<line x1="1268.1" y1="144.82" x2="1281.3" y2="144.82" stroke="#1e1e1e" stroke-width="1.2" />
<rect x="1271" y="175.36" width="7.4" height="315.64" fill="#1c1c1c" stroke="#1e1e1e" stroke-width="1.2"/>
<line x1="1288.2" y1="133.59" x2="1288.2" y2="98.79" stroke="#1e1e1e" stroke-width="1.2" />
<line x1="1281.6" y1="98.79" x2="1294.8" y2="98.79" stroke="#1e1e1e" stroke-width="1.2" />
<rect x="1284.5" y="134.19" width="7.4" height="356.81" fill="#c8c8c8" stroke="#1e1e1e" stroke-width="1.2"/>
<line x1="1301.7" y1="148.94" x2="1301.7" y2="133.22" stroke="#1e1e1e" stroke-width="1.2" />
<line x1="1295.1" y1="133.22" x2="1308.3" y2="133.22" stroke="#1e1e1e" stroke-width="1.2" />
<rect x="1298" y="149.54" width="7.4" height="341.46" fill="#808080" stroke="#1e1e1e" stroke-width="1.2"/>
<line x1="1315.2" y1="164.28" x2="1315.2" y2="145.94" stroke="#1e1e1e" stroke-width="1.2" />
<line x1="1308.6" y1="145.94" x2="1321.8" y2="145.94" stroke="#1e1e1e" stroke-width="1.2" />
<rect x="1311.5" y="164.88" width="7.4" height="326.12" fill="#e4e4e4" stroke="#1e1e1e" stroke-width="1.2"/>
<line x1="1364.35" y1="165.4" x2="1364.35" y2="139.58" stroke="#1e1e1e" stroke-width="1.2" />
<line x1="1357.75" y1="139.58" x2="1370.95" y2="139.58" stroke="#1e1e1e" stroke-width="1.2" />
<rect x="1360.65" y="166" width="7.4" height="325" fill="#1c1c1c" stroke="#1e1e1e" stroke-width="1.2"/>
<line x1="1377.85" y1="137.33" x2="1377.85" y2="109.26" stroke="#1e1e1e" stroke-width="1.2" />
<line x1="1371.25" y1="109.26" x2="1384.45" y2="109.26" stroke="#1e1e1e" stroke-width="1.2" />
<rect x="1374.15" y="137.93" width="7.4" height="353.07" fill="#c8c8c8" stroke="#1e1e1e" stroke-width="1.2"/>
<line x1="1391.35" y1="157.92" x2="1391.35" y2="138.08" stroke="#1e1e1e" stroke-width="1.2" />
<line x1="1384.75" y1="138.08" x2="1397.95" y2="138.08" stroke="#1e1e1e" stroke-width="1.2" />
<rect x="1387.65" y="158.52" width="7.4" height="332.48" fill="#808080" stroke="#1e1e1e" stroke-width="1.2"/>
<line x1="1404.85" y1="176.63" x2="1404.85" y2="160.16" stroke="#1e1e1e" stroke-width="1.2" />
<line x1="1398.25" y1="160.16" x2="1411.45" y2="160.16" stroke="#1e1e1e" stroke-width="1.2" />
<rect x="1401.15" y="177.23" width="7.4" height="313.77" fill="#e4e4e4" stroke="#1e1e1e" stroke-width="1.2"/>
<line x1="1454" y1="181.5" x2="1454" y2="167.65" stroke="#1e1e1e" stroke-width="1.2" />
<line x1="1447.4" y1="167.65" x2="1460.6" y2="167.65" stroke="#1e1e1e" stroke-width="1.2" />
<rect x="1450.3" y="182.1" width="7.4" height="308.9" fill="#1c1c1c" stroke="#1e1e1e" stroke-width="1.2"/>
<line x1="1467.5" y1="156.42" x2="1467.5" y2="141.45" stroke="#1e1e1e" stroke-width="1.2" />
<line x1="1460.9" y1="141.45" x2="1474.1" y2="141.45" stroke="#1e1e1e" stroke-width="1.2" />
<rect x="1463.8" y="157.02" width="7.4" height="333.98" fill="#c8c8c8" stroke="#1e1e1e" stroke-width="1.2"/>
<line x1="1481" y1="180.37" x2="1481" y2="161.66" stroke="#1e1e1e" stroke-width="1.2" />
<line x1="1474.4" y1="161.66" x2="1487.6" y2="161.66" stroke="#1e1e1e" stroke-width="1.2" />
<rect x="1477.3" y="180.97" width="7.4" height="310.03" fill="#808080" stroke="#1e1e1e" stroke-width="1.2"/>
<line x1="1494.5" y1="192.35" x2="1494.5" y2="178.5" stroke="#1e1e1e" stroke-width="1.2" />
<line x1="1487.9" y1="178.5" x2="1501.1" y2="178.5" stroke="#1e1e1e" stroke-width="1.2" />
<rect x="1490.8" y="192.95" width="7.4" height="298.05" fill="#e4e4e4" stroke="#1e1e1e" stroke-width="1.2"/>
<polyline points="936.4,487 1026.05,475.66 1115.7,423.63 1205.35,349.16 1295,275.81 1384.65,215.18 1474.3,177.38" fill="none" stroke="#1e1e1e" stroke-width="1.2"/>
<polyline points="936.4,481.83 1026.05,461.21 1115.7,400.43 1205.35,314.35 1295,243.62 1384.65,186.36 1474.3,146.32" fill="none" stroke="#1e1e1e" stroke-width="1.2"/>
<polyline points="936.4,469.67 1026.05,439.91 1115.7,381.72 1205.35,308.74 1295,242.12 1384.65,192.35 1474.3,158.29" fill="none" stroke="#1e1e1e" stroke-width="1.2"/>
<polyline points="936.4,449.08 1026.05,397.44 1115.7,344.67 1205.35,281.42 1295,229.4 1384.65,185.61 1474.3,148.56" fill="none" stroke="#1e1e1e" stroke-width="1.2"/>
<line x1="936.4" y1="487" x2="936.4" y2="485.12" stroke="#1e1e1e" stroke-width="1.1" />
<line x1="929.9" y1="485.12" x2="942.9" y2="485.12" stroke="#1e1e1e" stroke-width="1.1" />
<line x1="1026.05" y1="475.66" x2="1026.05" y2="468.92" stroke="#1e1e1e" stroke-width="1.1" />
<line x1="1019.55" y1="468.92" x2="1032.55" y2="468.92" stroke="#1e1e1e" stroke-width="1.1" />
<line x1="1115.7" y1="423.63" x2="1115.7" y2="419.14" stroke="#1e1e1e" stroke-width="1.1" />
<line x1="1109.2" y1="419.14" x2="1122.2" y2="419.14" stroke="#1e1e1e" stroke-width="1.1" />
<line x1="1205.35" y1="349.16" x2="1205.35" y2="335.87" stroke="#1e1e1e" stroke-width="1.1" />
<line x1="1198.85" y1="335.87" x2="1211.85" y2="335.87" stroke="#1e1e1e" stroke-width="1.1" />
<line x1="1295" y1="275.81" x2="1295" y2="256.35" stroke="#1e1e1e" stroke-width="1.1" />
<line x1="1288.5" y1="256.35" x2="1301.5" y2="256.35" stroke="#1e1e1e" stroke-width="1.1" />
<line x1="1384.65" y1="215.18" x2="1384.65" y2="211.44" stroke="#1e1e1e" stroke-width="1.1" />
<line x1="1378.15" y1="211.44" x2="1391.15" y2="211.44" stroke="#1e1e1e" stroke-width="1.1" />
<line x1="1474.3" y1="177.38" x2="1474.3" y2="162.03" stroke="#1e1e1e" stroke-width="1.1" />
<line x1="1467.8" y1="162.03" x2="1480.8" y2="162.03" stroke="#1e1e1e" stroke-width="1.1" />
<circle cx="936.4" cy="487" r="4.95" fill="#1c1c1c" stroke="#1e1e1e" stroke-width="1.2"/>
<circle cx="1026.05" cy="475.66" r="4.95" fill="#1c1c1c" stroke="#1e1e1e" stroke-width="1.2"/>
<circle cx="1115.7" cy="423.63" r="4.95" fill="#1c1c1c" stroke="#1e1e1e" stroke-width="1.2"/>
<circle cx="1205.35" cy="349.16" r="4.95" fill="#1c1c1c" stroke="#1e1e1e" stroke-width="1.2"/>
<circle cx="1295" cy="275.81" r="4.95" fill="#1c1c1c" stroke="#1e1e1e" stroke-width="1.2"/>
<circle cx="1384.65" cy="215.18" r="4.95" fill="#1c1c1c" stroke="#1e1e1e" stroke-width="1.2"/>
<circle cx="1474.3" cy="177.38" r="4.95" fill="#1c1c1c" stroke="#1e1e1e" stroke-width="1.2"/>
<line x1="936.4" y1="481.83" x2="936.4" y2="479.96" stroke="#1e1e1e" stroke-width="1.1" />
<line x1="929.9" y1="479.96" x2="942.9" y2="479.96" stroke="#1e1e1e" stroke-width="1.1" />
<line x1="1026.05" y1="461.21" x2="1026.05" y2="456.34" stroke="#1e1e1e" stroke-width="1.1" />
<line x1="1019.55" y1="456.34" x2="1032.55" y2="456.34" stroke="#1e1e1e" stroke-width="1.1" />
<line x1="1115.7" y1="400.43" x2="1115.7" y2="388.83" stroke="#1e1e1e" stroke-width="1.1" />
<line x1="1109.2" y1="388.83" x2="1122.2" y2="388.83" stroke="#1e1e1e" stroke-width="1.1" />
<line x1="1205.35" y1="314.35" x2="1205.35" y2="303.88" stroke="#1e1e1e" stroke-width="1.1" />
<line x1="1198.85" y1="303.88" x2="1211.85" y2="303.88" stroke="#1e1e1e" stroke-width="1.1" />
<line x1="1295" y1="243.62" x2="1295" y2="232.39" stroke="#1e1e1e" stroke-width="1.1" />
<line x1="1288.5" y1="232.39" x2="1301.5" y2="232.39" stroke="#1e1e1e" stroke-width="1.1" />
<line x1="1384.65" y1="186.36" x2="1384.65" y2="173.26" stroke="#1e1e1e" stroke-width="1.1" />
<line x1="1378.15" y1="173.26" x2="1391.15" y2="173.26" stroke="#1e1e1e" stroke-width="1.1" />
<line x1="1474.3" y1="146.32" x2="1474.3" y2="135.84" stroke="#1e1e1e" stroke-width="1.1" />
<line x1="1467.8" y1="135.84" x2="1480.8" y2="135.84" stroke="#1e1e1e" stroke-width="1.1" />
<circle cx="936.4" cy="481.83" r="4.95" fill="#c8c8c8" stroke="#1e1e1e" stroke-width="1.2"/>
<circle cx="1026.05" cy="461.21" r="4.95" fill="#c8c8c8" stroke="#1e1e1e" stroke-width="1.2"/>
<circle cx="1115.7" cy="400.43" r="4.95" fill="#c8c8c8" stroke="#1e1e1e" stroke-width="1.2"/>
<circle cx="1205.35" cy="314.35" r="4.95" fill="#c8c8c8" stroke="#1e1e1e" stroke-width="1.2"/>
<circle cx="1295" cy="243.62" r="4.95" fill="#c8c8c8" stroke="#1e1e1e" stroke-width="1.2"/>
<circle cx="1384.65" cy="186.36" r="4.95" fill="#c8c8c8" stroke="#1e1e1e" stroke-width="1.2"/>
<circle cx="1474.3" cy="146.32" r="4.95" fill="#c8c8c8" stroke="#1e1e1e" stroke-width="1.2"/>
<line x1="936.4" y1="469.67" x2="936.4" y2="466.67" stroke="#1e1e1e" stroke-width="1.1" />
<line x1="929.9" y1="466.67" x2="942.9" y2="466.67" stroke="#1e1e1e" stroke-width="1.1" />
<line x1="1026.05" y1="439.91" x2="1026.05" y2="425.69" stroke="#1e1e1e" stroke-width="1.1" />
<line x1="1019.55" y1="425.69" x2="1032.55" y2="425.69" stroke="#1e1e1e" stroke-width="1.1" />
<line x1="1115.7" y1="381.72" x2="1115.7" y2="366.75" stroke="#1e1e1e" stroke-width="1.1" />
<line x1="1109.2" y1="366.75" x2="1122.2" y2="366.75" stroke="#1e1e1e" stroke-width="1.1" />
<line x1="1205.35" y1="308.74" x2="1205.35" y2="296.76" stroke="#1e1e1e" stroke-width="1.1" />
<line x1="1198.85" y1="296.76" x2="1211.85" y2="296.76" stroke="#1e1e1e" stroke-width="1.1" />
<line x1="1295" y1="242.12" x2="1295" y2="221.17" stroke="#1e1e1e" stroke-width="1.1" />
<line x1="1288.5" y1="221.17" x2="1301.5" y2="221.17" stroke="#1e1e1e" stroke-width="1.1" />
<line x1="1384.65" y1="192.35" x2="1384.65" y2="174.01" stroke="#1e1e1e" stroke-width="1.1" />
<line x1="1378.15" y1="174.01" x2="1391.15" y2="174.01" stroke="#1e1e1e" stroke-width="1.1" />
<line x1="1474.3" y1="158.29" x2="1474.3" y2="139.58" stroke="#1e1e1e" stroke-width="1.1" />
<line x1="1467.8" y1="139.58" x2="1480.8" y2="139.58" stroke="#1e1e1e" stroke-width="1.1" />
<polygon points="936.4,475.44 931.4,466.78 941.4,466.78" fill="#808080" stroke="#1e1e1e" stroke-width="1.2" stroke-linejoin="miter"/>
<polygon points="1026.05,445.69 1021.05,437.03 1031.05,437.03" fill="#808080" stroke="#1e1e1e" stroke-width="1.2" stroke-linejoin="miter"/>
<polygon points="1115.7,387.49 1110.7,378.83 1120.7,378.83" fill="#808080" stroke="#1e1e1e" stroke-width="1.2" stroke-linejoin="miter"/>
<polygon points="1205.35,314.51 1200.35,305.85 1210.35,305.85" fill="#808080" stroke="#1e1e1e" stroke-width="1.2" stroke-linejoin="miter"/>
<polygon points="1295,247.9 1290,239.24 1300,239.24" fill="#808080" stroke="#1e1e1e" stroke-width="1.2" stroke-linejoin="miter"/>
<polygon points="1384.65,198.12 1379.65,189.46 1389.65,189.46" fill="#808080" stroke="#1e1e1e" stroke-width="1.2" stroke-linejoin="miter"/>
<polygon points="1474.3,164.07 1469.3,155.41 1479.3,155.41" fill="#808080" stroke="#1e1e1e" stroke-width="1.2" stroke-linejoin="miter"/>
<line x1="936.4" y1="449.08" x2="936.4" y2="445.34" stroke="#1e1e1e" stroke-width="1.1" />
<line x1="929.9" y1="445.34" x2="942.9" y2="445.34" stroke="#1e1e1e" stroke-width="1.1" />
<line x1="1026.05" y1="397.44" x2="1026.05" y2="389.95" stroke="#1e1e1e" stroke-width="1.1" />
<line x1="1019.55" y1="389.95" x2="1032.55" y2="389.95" stroke="#1e1e1e" stroke-width="1.1" />
<line x1="1115.7" y1="344.67" x2="1115.7" y2="333.44" stroke="#1e1e1e" stroke-width="1.1" />
<line x1="1109.2" y1="333.44" x2="1122.2" y2="333.44" stroke="#1e1e1e" stroke-width="1.1" />
<line x1="1205.35" y1="281.42" x2="1205.35" y2="270.19" stroke="#1e1e1e" stroke-width="1.1" />
<line x1="1198.85" y1="270.19" x2="1211.85" y2="270.19" stroke="#1e1e1e" stroke-width="1.1" />
<line x1="1295" y1="229.4" x2="1295" y2="218.17" stroke="#1e1e1e" stroke-width="1.1" />
<line x1="1288.5" y1="218.17" x2="1301.5" y2="218.17" stroke="#1e1e1e" stroke-width="1.1" />
<line x1="1384.65" y1="185.61" x2="1384.65" y2="163.91" stroke="#1e1e1e" stroke-width="1.1" />
<line x1="1378.15" y1="163.91" x2="1391.15" y2="163.91" stroke="#1e1e1e" stroke-width="1.1" />
<line x1="1474.3" y1="148.56" x2="1474.3" y2="131.72" stroke="#1e1e1e" stroke-width="1.1" />
<line x1="1467.8" y1="131.72" x2="1480.8" y2="131.72" stroke="#1e1e1e" stroke-width="1.1" />
<polygon points="936.4,443.31 931.4,451.97 941.4,451.97" fill="#ececec" stroke="#1e1e1e" stroke-width="1.2" stroke-linejoin="miter"/>
<polygon points="1026.05,391.66 1021.05,400.32 1031.05,400.32" fill="#ececec" stroke="#1e1e1e" stroke-width="1.2" stroke-linejoin="miter"/>
<polygon points="1115.7,338.89 1110.7,347.55 1120.7,347.55" fill="#ececec" stroke="#1e1e1e" stroke-width="1.2" stroke-linejoin="miter"/>
<polygon points="1205.35,275.65 1200.35,284.31 1210.35,284.31" fill="#ececec" stroke="#1e1e1e" stroke-width="1.2" stroke-linejoin="miter"/>
<polygon points="1295,223.63 1290,232.29 1300,232.29" fill="#ececec" stroke="#1e1e1e" stroke-width="1.2" stroke-linejoin="miter"/>
<polygon points="1384.65,179.84 1379.65,188.5 1389.65,188.5" fill="#ececec" stroke="#1e1e1e" stroke-width="1.2" stroke-linejoin="miter"/>
<polygon points="1474.3,142.79 1469.3,151.45 1479.3,151.45" fill="#ececec" stroke="#1e1e1e" stroke-width="1.2" stroke-linejoin="miter"/>
<rect x="936.4" y="41.9" width="627.55" height="449.1" fill="none" stroke="#2a2a2a" stroke-width="1.3"/>
<line x1="936.4" y1="416.15" x2="942.9" y2="416.15" stroke="#2a2a2a" stroke-width="1.3" />
<line x1="936.4" y1="341.3" x2="942.9" y2="341.3" stroke="#2a2a2a" stroke-width="1.3" />
<line x1="936.4" y1="266.45" x2="942.9" y2="266.45" stroke="#2a2a2a" stroke-width="1.3" />
<line x1="936.4" y1="191.6" x2="942.9" y2="191.6" stroke="#2a2a2a" stroke-width="1.3" />
<line x1="936.4" y1="116.75" x2="942.9" y2="116.75" stroke="#2a2a2a" stroke-width="1.3" />
<line x1="1557.45" y1="446.09" x2="1563.95" y2="446.09" stroke="#2a2a2a" stroke-width="1.3" />
<line x1="1557.45" y1="401.18" x2="1563.95" y2="401.18" stroke="#2a2a2a" stroke-width="1.3" />
<line x1="1557.45" y1="356.27" x2="1563.95" y2="356.27" stroke="#2a2a2a" stroke-width="1.3" />
<line x1="1557.45" y1="311.36" x2="1563.95" y2="311.36" stroke="#2a2a2a" stroke-width="1.3" />
<line x1="1557.45" y1="266.45" x2="1563.95" y2="266.45" stroke="#2a2a2a" stroke-width="1.3" />
<line x1="1557.45" y1="221.54" x2="1563.95" y2="221.54" stroke="#2a2a2a" stroke-width="1.3" />
<line x1="1557.45" y1="176.63" x2="1563.95" y2="176.63" stroke="#2a2a2a" stroke-width="1.3" />
<line x1="1557.45" y1="131.72" x2="1563.95" y2="131.72" stroke="#2a2a2a" stroke-width="1.3" />
<line x1="1557.45" y1="86.81" x2="1563.95" y2="86.81" stroke="#2a2a2a" stroke-width="1.3" />
<text transform="translate(925.5,498.3) scale(1,1.05)" font-size="21.3" text-anchor="end" >0</text>
<text transform="translate(925.5,423.45) scale(1,1.05)" font-size="21.3" text-anchor="end" >20</text>
<text transform="translate(925.5,348.6) scale(1,1.05)" font-size="21.3" text-anchor="end" >40</text>
<text transform="translate(925.5,273.75) scale(1,1.05)" font-size="21.3" text-anchor="end" >60</text>
<text transform="translate(925.5,198.9) scale(1,1.05)" font-size="21.3" text-anchor="end" >80</text>
<text transform="translate(925.5,124.05) scale(1,1.05)" font-size="21.3" text-anchor="end" >100</text>
<text transform="translate(925.5,49.2) scale(1,1.05)" font-size="21.3" text-anchor="end" >120</text>
<text transform="translate(1573.9,498.3) scale(1,1.05)" font-size="21.3" text-anchor="start" >0</text>
<text transform="translate(1573.9,453.39) scale(1,1.05)" font-size="21.3" text-anchor="start" >2</text>
<text transform="translate(1573.9,408.48) scale(1,1.05)" font-size="21.3" text-anchor="start" >4</text>
<text transform="translate(1573.9,363.57) scale(1,1.05)" font-size="21.3" text-anchor="start" >6</text>
<text transform="translate(1573.9,318.66) scale(1,1.05)" font-size="21.3" text-anchor="start" >8</text>
<text transform="translate(1573.9,273.75) scale(1,1.05)" font-size="21.3" text-anchor="start" >10</text>
<text transform="translate(1573.9,228.84) scale(1,1.05)" font-size="21.3" text-anchor="start" >12</text>
<text transform="translate(1573.9,183.93) scale(1,1.05)" font-size="21.3" text-anchor="start" >14</text>
<text transform="translate(1573.9,139.02) scale(1,1.05)" font-size="21.3" text-anchor="start" >16</text>
<text transform="translate(1573.9,94.11) scale(1,1.05)" font-size="21.3" text-anchor="start" >18</text>
<text transform="translate(1573.9,49.2) scale(1,1.05)" font-size="21.3" text-anchor="start" >20</text>
<text transform="translate(936.4,522.2) scale(1,1.05)" font-size="21.3" text-anchor="middle" >0</text>
<text transform="translate(1026.05,522.2) scale(1,1.05)" font-size="21.3" text-anchor="middle" >1</text>
<text transform="translate(1115.7,522.2) scale(1,1.05)" font-size="21.3" text-anchor="middle" >2</text>
<text transform="translate(1205.35,522.2) scale(1,1.05)" font-size="21.3" text-anchor="middle" >3</text>
<text transform="translate(1295,522.2) scale(1,1.05)" font-size="21.3" text-anchor="middle" >4</text>
<text transform="translate(1384.65,522.2) scale(1,1.05)" font-size="21.3" text-anchor="middle" >5</text>
<text transform="translate(1474.3,522.2) scale(1,1.05)" font-size="21.3" text-anchor="middle" >6</text>
<text transform="translate(1563.95,522.2) scale(1,1.05)" font-size="21.3" text-anchor="middle" >7</text>
<text transform="translate(1249.9,561.6) scale(1,1.05)" font-size="21.3" text-anchor="middle" >Day</text>
<text transform="translate(956.4,69.7) scale(1,1.05)" font-size="21.3" text-anchor="start" >Seeds from LE</text>
<text transform="translate(873.5,400.7) rotate(-90) scale(1,1.05)" font-size="21.05">Biomass surface density (g/m<tspan dy="-9.2">2</tspan><tspan dy="9.2">)</tspan></text>
<text transform="translate(1610.6,97.3) rotate(90) scale(1,1.05)" font-size="21.05">Biomass surface productivity (g/m<tspan dy="-9.2">2</tspan><tspan dy="9.2">/day)</tspan></text>
<rect x="1322.9" y="352.3" width="229.6" height="123.9" fill="#fdfdfd" stroke="#2a2a2a" stroke-width="1.3"/>
<rect x="1337" y="376.7" width="48.2" height="12.8" fill="#1c1c1c" stroke="#2a2a2a" stroke-width="1.2"/>
<line x1="1388.1" y1="383.1" x2="1437" y2="383.1" stroke="#1e1e1e" stroke-width="1.2" />
<circle cx="1412.7" cy="383.1" r="4.95" fill="#1c1c1c" stroke="#1e1e1e" stroke-width="1.2"/>
<text transform="translate(1449.3,392.8) scale(1,1.05)" font-size="21.3" text-anchor="start" >1.20 g/m<tspan dy="-9.2">2</tspan></text>
<rect x="1337" y="400.55" width="48.2" height="12.8" fill="#c8c8c8" stroke="#2a2a2a" stroke-width="1.2"/>
<line x1="1388.1" y1="406.95" x2="1437" y2="406.95" stroke="#1e1e1e" stroke-width="1.2" />
<circle cx="1412.7" cy="406.95" r="4.95" fill="#c8c8c8" stroke="#1e1e1e" stroke-width="1.2"/>
<text transform="translate(1449.3,416.87) scale(1,1.05)" font-size="21.3" text-anchor="start" >2.48 g/m<tspan dy="-9.2">2</tspan></text>
<rect x="1337" y="424.4" width="48.2" height="12.8" fill="#808080" stroke="#2a2a2a" stroke-width="1.2"/>
<line x1="1388.1" y1="430.8" x2="1437" y2="430.8" stroke="#1e1e1e" stroke-width="1.2" />
<polygon points="1412.7,436.57 1407.7,427.91 1417.7,427.91" fill="#808080" stroke="#1e1e1e" stroke-width="1.2" stroke-linejoin="miter"/>
<text transform="translate(1449.3,440.94) scale(1,1.05)" font-size="21.3" text-anchor="start" >5.80 g/m<tspan dy="-9.2">2</tspan></text>
<rect x="1337" y="448.25" width="48.2" height="12.8" fill="#e4e4e4" stroke="#2a2a2a" stroke-width="1.2"/>
<line x1="1388.1" y1="454.65" x2="1437" y2="454.65" stroke="#1e1e1e" stroke-width="1.2" />
<polygon points="1412.7,448.88 1407.7,457.54 1417.7,457.54" fill="#ececec" stroke="#1e1e1e" stroke-width="1.2" stroke-linejoin="miter"/>
<text transform="translate(1449.3,465.01) scale(1,1.05)" font-size="21.3" text-anchor="start" >11.39 g/m<tspan dy="-9.2">2</tspan></text>
</g>
<g id="panelC">
<rect x="3" y="577" width="793" height="561" fill="#fdfdfd"/>
<polyline points="111.7,1043.4 111.74,1042.9 111.82,1041.88 111.94,1040.49 112.08,1038.8 112.24,1036.85 112.42,1034.66 112.62,1032.25 112.84,1029.65 113.07,1026.86 113.33,1023.91 113.59,1020.81 113.88,1017.57 114.17,1014.19 114.49,1010.69 114.81,1007.08 115.15,1003.37 115.5,999.56 115.86,995.66 116.24,991.69 116.63,987.64 117.03,983.53 117.44,979.36 117.86,975.13 118.3,970.86 118.74,966.56 119.2,962.21 119.67,957.84 120.14,953.44 120.63,949.03 121.13,944.6 121.64,940.16 122.16,935.72 122.68,931.28 123.22,926.84 123.77,922.41 124.32,917.98 124.89,913.58 125.46,909.19 126.05,904.82 126.64,900.48 127.24,896.16 127.85,891.88 128.47,887.62 129.1,883.41 129.74,879.22 130.39,875.08 131.04,870.98 131.7,866.93 132.37,862.92 133.05,858.95 133.74,855.04 134.44,851.17 135.14,847.36 135.85,843.6 136.57,839.89 137.3,836.24 138.03,832.64 138.78,829.1 139.53,825.61 140.29,822.19 141.05,818.82 141.83,815.51 142.61,812.26 143.4,809.07 144.19,805.94 144.99,802.87 145.81,799.86 146.62,796.9 147.45,794.01 148.28,791.18 149.12,788.41 149.97,785.69 150.82,783.04 151.68,780.44 152.55,777.9 153.43,775.42 154.31,773 155.2,770.63 156.09,768.32 156.99,766.07 157.9,763.87 158.82,761.73 159.74,759.63 160.67,757.6 161.61,755.61 162.55,753.68 163.5,751.8 164.46,749.96 165.42,748.18 166.39,746.45 167.36,744.76 168.35,743.12 169.33,741.53 170.33,739.98 171.33,738.48 172.34,737.02 173.35,735.6 174.37,734.23 175.4,732.89 176.43,731.6 177.47,730.34 178.51,729.13 179.56,727.95 180.62,726.81 181.69,725.7 182.76,724.63 183.83,723.6 184.91,722.59 186,721.62 187.09,720.68 188.19,719.78 189.3,718.9 190.41,718.05 191.53,717.23 192.65,716.44 193.78,715.68 194.92,714.94 196.06,714.23 197.2,713.54 198.36,712.88 199.51,712.24 200.68,711.62 201.85,711.03 203.02,710.46 204.2,709.9 205.39,709.37 206.58,708.86 207.78,708.37 208.99,707.89 210.2,707.44 211.41,707 212.63,706.57 213.86,706.17 215.09,705.78 216.33,705.4 217.57,705.04 218.82,704.69 220.07,704.36 221.33,704.04 222.59,703.73 223.86,703.44 225.14,703.15 226.42,702.88 227.71,702.62 229,702.37 230.3,702.13 231.6,701.9 232.91,701.68 234.22,701.47 235.54,701.27 236.86,701.07 238.19,700.89 239.52,700.71 240.86,700.54 242.21,700.38 243.56,700.22 244.91,700.07 246.27,699.93 247.64,699.79 249.01,699.66 250.38,699.54 251.77,699.42 253.15,699.31 254.54,699.2 255.94,699.09 257.34,699 258.75,698.9 260.16,698.81 261.57,698.72 262.99,698.64 264.42,698.56 265.85,698.49 267.29,698.42 268.73,698.35 270.18,698.29 271.63,698.22 273.09,698.17 274.55,698.11 276.01,698.06 277.48,698 278.96,697.96 280.44,697.91 281.93,697.87 283.42,697.82 284.91,697.79 286.41,697.75 287.92,697.71 289.43,697.68 290.94,697.65 292.46,697.61 293.99,697.59 295.52,697.56 297.05,697.53 298.59,697.51 300.13,697.48 301.68,697.46 303.24,697.44 304.79,697.42 306.36,697.4 307.92,697.38 309.5,697.36 311.07,697.35 312.66,697.33 314.24,697.32 315.83,697.3 317.43,697.29 319.03,697.28 320.63,697.26 322.24,697.25 323.86,697.24 325.48,697.23 327.1,697.22 328.73,697.21 330.36,697.2 332,697.2 333.64,697.19 335.28,697.18 336.94,697.17 338.59,697.17 340.25,697.16 341.92,697.16 343.58,697.15 345.26,697.14 346.94,697.14 348.62,697.14 350.31,697.13 352,697.13 353.69,697.12 355.39,697.12 357.1,697.12 358.81,697.11 360.52,697.11 362.24,697.11 363.96,697.1 365.69,697.1 367.42,697.1 369.16,697.1 370.9,697.09 372.64,697.09 374.39,697.09 376.14,697.09 377.9,697.09 379.66,697.09 381.43,697.08 383.2,697.08 384.98,697.08 386.76,697.08 388.54,697.08 390.33,697.08 392.12,697.08 393.92,697.08 395.72,697.07 397.52,697.07 399.33,697.07 401.15,697.07 402.97,697.07 404.79,697.07 406.62,697.07 408.45,697.07 410.28,697.07 412.12,697.07 413.97,697.07 415.81,697.07 417.67,697.07 419.52,697.07 421.38,697.07 423.25,697.07 425.12,697.07 426.99,697.06 428.87,697.06 430.75,697.06 432.63,697.06 434.52,697.06 436.42,697.06 438.32,697.06 440.22,697.06 442.13,697.06 444.04,697.06 445.95,697.06 447.87,697.06 449.79,697.06 451.72,697.06 453.65,697.06 455.59,697.06 457.53,697.06 459.47,697.06 461.42,697.06 463.37,697.06 465.32,697.06 467.28,697.06 469.25,697.06 471.22,697.06 473.19,697.06 475.16,697.06 477.14,697.06 479.13,697.06 481.12,697.06 483.11,697.06 485.1,697.06 487.11,697.06 489.11,697.06 491.12,697.06 493.13,697.06 495.15,697.06 497.17,697.06 499.19,697.06 501.22,697.06 503.25,697.06 505.29,697.06 507.33,697.06 509.37,697.06 511.42,697.06 513.47,697.06 515.53,697.06 517.59,697.06 519.65,697.06 521.72,697.06 523.79,697.06 525.86,697.06 527.94,697.06 530.03,697.06 532.11,697.06 534.2,697.06 536.3,697.06 538.4,697.06 540.5,697.06 542.61,697.06 544.72,697.06 546.83,697.06 548.95,697.06 551.07,697.06 553.2,697.06 555.33,697.06 557.46,697.06 559.6,697.06 561.74,697.06 563.88,697.06 566.03,697.06 568.18,697.06 570.34,697.06 572.5,697.06 574.66,697.06 576.83,697.06 579,697.06 581.18,697.06 583.36,697.06 585.54,697.06 587.73,697.06 589.92,697.06 592.11,697.06 594.31,697.06 596.51,697.06 598.72,697.06 600.93,697.06 603.14,697.06 605.36,697.06 607.58,697.06 609.8,697.06 612.03,697.06 614.26,697.06 616.5,697.06 618.74,697.06 620.98,697.06 623.23,697.06 625.48,697.06 627.73,697.06 629.99,697.06 632.25,697.06 634.52,697.06 636.78,697.06 639.06,697.06 641.33,697.06 643.61,697.06 645.9,697.06 648.18,697.06 650.47,697.06 652.77,697.06 655.07,697.06 657.37,697.06 659.67,697.06 661.98,697.06 664.3,697.06 666.61,697.06 668.93,697.06 671.26,697.06 673.58,697.06 675.91,697.06 678.25,697.06 680.59,697.06 682.93,697.06 685.27,697.06 687.62,697.06 689.97,697.06 692.33,697.06 694.69,697.06 697.05,697.06 699.42,697.06 701.79,697.06 704.17,697.06 706.54,697.06" fill="none" stroke="#1a1a1a" stroke-width="1.8" stroke-dasharray="12 4.6"/>
<line x1="116.92" y1="998.45" x2="116.92" y2="1016.88" stroke="#1a1a1a" stroke-width="2" />
<line x1="110.12" y1="998.45" x2="123.72" y2="998.45" stroke="#1a1a1a" stroke-width="2" />
<line x1="110.12" y1="1016.88" x2="123.72" y2="1016.88" stroke="#1a1a1a" stroke-width="2" />
<line x1="137.81" y1="837.75" x2="137.81" y2="844.5" stroke="#1a1a1a" stroke-width="2" />
<line x1="131.01" y1="837.75" x2="144.61" y2="837.75" stroke="#1a1a1a" stroke-width="2" />
<line x1="131.01" y1="844.5" x2="144.61" y2="844.5" stroke="#1a1a1a" stroke-width="2" />
<line x1="174.37" y1="696.61" x2="174.37" y2="757.97" stroke="#1a1a1a" stroke-width="2" />
<line x1="167.57" y1="696.61" x2="181.17" y2="696.61" stroke="#1a1a1a" stroke-width="2" />
<line x1="167.57" y1="757.97" x2="181.17" y2="757.97" stroke="#1a1a1a" stroke-width="2" />
<line x1="241.22" y1="650.76" x2="241.22" y2="720.21" stroke="#1a1a1a" stroke-width="2" />
<line x1="234.42" y1="650.76" x2="248.02" y2="650.76" stroke="#1a1a1a" stroke-width="2" />
<line x1="234.42" y1="720.21" x2="248.02" y2="720.21" stroke="#1a1a1a" stroke-width="2" />
<line x1="414.6" y1="686.05" x2="414.6" y2="717.51" stroke="#1a1a1a" stroke-width="2" />
<line x1="407.8" y1="686.05" x2="421.4" y2="686.05" stroke="#1a1a1a" stroke-width="2" />
<line x1="407.8" y1="717.51" x2="421.4" y2="717.51" stroke="#1a1a1a" stroke-width="2" />
<line x1="706.54" y1="697.96" x2="706.54" y2="734.82" stroke="#1a1a1a" stroke-width="2" />
<line x1="699.74" y1="697.96" x2="713.34" y2="697.96" stroke="#1a1a1a" stroke-width="2" />
<line x1="699.74" y1="734.82" x2="713.34" y2="734.82" stroke="#1a1a1a" stroke-width="2" />
<polygon points="111.7,1037.4 105.7,1048.2 117.7,1048.2" fill="#1a1a1a" stroke="#1a1a1a" stroke-width="1.2" stroke-linejoin="round"/>
<polygon points="116.92,1008.18 110.92,1018.98 122.92,1018.98" fill="#1a1a1a" stroke="#1a1a1a" stroke-width="1.2" stroke-linejoin="round"/>
<polygon points="137.81,835.13 131.81,845.93 143.81,845.93" fill="#1a1a1a" stroke="#1a1a1a" stroke-width="1.2" stroke-linejoin="round"/>
<polygon points="174.37,720.5 168.37,731.3 180.37,731.3" fill="#1a1a1a" stroke="#1a1a1a" stroke-width="1.2" stroke-linejoin="round"/>
<polygon points="241.22,678.47 235.22,689.27 247.22,689.27" fill="#1a1a1a" stroke="#1a1a1a" stroke-width="1.2" stroke-linejoin="round"/>
<polygon points="414.6,693.76 408.6,704.56 420.6,704.56" fill="#1a1a1a" stroke="#1a1a1a" stroke-width="1.2" stroke-linejoin="round"/>
<polygon points="706.54,708.82 700.54,719.62 712.54,719.62" fill="#1a1a1a" stroke="#1a1a1a" stroke-width="1.2" stroke-linejoin="round"/>
<rect x="111.7" y="593.9" width="626.7" height="449.5" fill="none" stroke="#1a1a1a" stroke-width="2"/>
<line x1="216.15" y1="1043.4" x2="216.15" y2="1036.4" stroke="#1a1a1a" stroke-width="2" />
<line x1="216.15" y1="593.9" x2="216.15" y2="600.9" stroke="#1a1a1a" stroke-width="2" />
<line x1="320.6" y1="1043.4" x2="320.6" y2="1036.4" stroke="#1a1a1a" stroke-width="2" />
<line x1="320.6" y1="593.9" x2="320.6" y2="600.9" stroke="#1a1a1a" stroke-width="2" />
<line x1="425.05" y1="1043.4" x2="425.05" y2="1036.4" stroke="#1a1a1a" stroke-width="2" />
<line x1="425.05" y1="593.9" x2="425.05" y2="600.9" stroke="#1a1a1a" stroke-width="2" />
<line x1="529.5" y1="1043.4" x2="529.5" y2="1036.4" stroke="#1a1a1a" stroke-width="2" />
<line x1="529.5" y1="593.9" x2="529.5" y2="600.9" stroke="#1a1a1a" stroke-width="2" />
<line x1="633.95" y1="1043.4" x2="633.95" y2="1036.4" stroke="#1a1a1a" stroke-width="2" />
<line x1="633.95" y1="593.9" x2="633.95" y2="600.9" stroke="#1a1a1a" stroke-width="2" />
<line x1="111.7" y1="998.45" x2="118.7" y2="998.45" stroke="#1a1a1a" stroke-width="2" />
<line x1="738.4" y1="998.45" x2="731.4" y2="998.45" stroke="#1a1a1a" stroke-width="2" />
<line x1="111.7" y1="953.5" x2="118.7" y2="953.5" stroke="#1a1a1a" stroke-width="2" />
<line x1="738.4" y1="953.5" x2="731.4" y2="953.5" stroke="#1a1a1a" stroke-width="2" />
<line x1="111.7" y1="908.55" x2="118.7" y2="908.55" stroke="#1a1a1a" stroke-width="2" />
<line x1="738.4" y1="908.55" x2="731.4" y2="908.55" stroke="#1a1a1a" stroke-width="2" />
<line x1="111.7" y1="863.6" x2="118.7" y2="863.6" stroke="#1a1a1a" stroke-width="2" />
<line x1="738.4" y1="863.6" x2="731.4" y2="863.6" stroke="#1a1a1a" stroke-width="2" />
<line x1="111.7" y1="818.65" x2="118.7" y2="818.65" stroke="#1a1a1a" stroke-width="2" />
<line x1="738.4" y1="818.65" x2="731.4" y2="818.65" stroke="#1a1a1a" stroke-width="2" />
<line x1="111.7" y1="773.7" x2="118.7" y2="773.7" stroke="#1a1a1a" stroke-width="2" />
<line x1="738.4" y1="773.7" x2="731.4" y2="773.7" stroke="#1a1a1a" stroke-width="2" />
<line x1="111.7" y1="728.75" x2="118.7" y2="728.75" stroke="#1a1a1a" stroke-width="2" />
<line x1="738.4" y1="728.75" x2="731.4" y2="728.75" stroke="#1a1a1a" stroke-width="2" />
<line x1="111.7" y1="683.8" x2="118.7" y2="683.8" stroke="#1a1a1a" stroke-width="2" />
<line x1="738.4" y1="683.8" x2="731.4" y2="683.8" stroke="#1a1a1a" stroke-width="2" />
<line x1="111.7" y1="638.85" x2="118.7" y2="638.85" stroke="#1a1a1a" stroke-width="2" />
<line x1="738.4" y1="638.85" x2="731.4" y2="638.85" stroke="#1a1a1a" stroke-width="2" />
<text transform="translate(100,1050.7) scale(1,1.05)" font-size="21.3" text-anchor="end" >0</text>
<text transform="translate(100,1005.75) scale(1,1.05)" font-size="21.3" text-anchor="end" >2</text>
<text transform="translate(100,960.8) scale(1,1.05)" font-size="21.3" text-anchor="end" >4</text>
<text transform="translate(100,915.85) scale(1,1.05)" font-size="21.3" text-anchor="end" >6</text>
<text transform="translate(100,870.9) scale(1,1.05)" font-size="21.3" text-anchor="end" >8</text>
<text transform="translate(100,825.95) scale(1,1.05)" font-size="21.3" text-anchor="end" >10</text>
<text transform="translate(100,781) scale(1,1.05)" font-size="21.3" text-anchor="end" >12</text>
<text transform="translate(100,736.05) scale(1,1.05)" font-size="21.3" text-anchor="end" >14</text>
<text transform="translate(100,691.1) scale(1,1.05)" font-size="21.3" text-anchor="end" >16</text>
<text transform="translate(100,646.15) scale(1,1.05)" font-size="21.3" text-anchor="end" >18</text>
<text transform="translate(100,601.2) scale(1,1.05)" font-size="21.3" text-anchor="end" >20</text>
<text transform="translate(111.7,1074.3) scale(1,1.05)" font-size="21.3" text-anchor="middle" >0</text>
<text transform="translate(216.15,1074.3) scale(1,1.05)" font-size="21.3" text-anchor="middle" >2</text>
<text transform="translate(320.6,1074.3) scale(1,1.05)" font-size="21.3" text-anchor="middle" >4</text>
<text transform="translate(425.05,1074.3) scale(1,1.05)" font-size="21.3" text-anchor="middle" >6</text>
<text transform="translate(529.5,1074.3) scale(1,1.05)" font-size="21.3" text-anchor="middle" >8</text>
<text transform="translate(633.95,1074.3) scale(1,1.05)" font-size="21.3" text-anchor="middle" >10</text>
<text transform="translate(738.4,1074.3) scale(1,1.05)" font-size="21.3" text-anchor="middle" >12</text>
<text transform="translate(287.6,1124) scale(1,1.05)" font-size="21.1" text-anchor="start" >Inoculum surface density (g/m<tspan dy="-10.1">2</tspan><tspan dy="10.1">)</tspan></text>
<text transform="translate(58.9,990.4) rotate(-90) scale(1,1.05)" font-size="21.15">Biomass surface productivity (g/m<tspan dy="-9.2">2</tspan><tspan dy="9.2">/day)</tspan></text>
<text transform="translate(596,662.5) scale(1,1.05)" font-size="21.3" font-style="italic">R<tspan dy="-8.6">2</tspan><tspan dy="8.6">=0.9888</tspan></text>
</g>
<text transform="translate(30.8,21.6) scale(1,1.05)" font-size="28" text-anchor="start" >a)</text>
<text transform="translate(846,21.1) scale(1,1.05)" font-size="28" text-anchor="start" >b)</text>
<text transform="translate(30.8,576.4) scale(1,1.05)" font-size="28" text-anchor="start" >c)</text>
</svg>
</body></html>
